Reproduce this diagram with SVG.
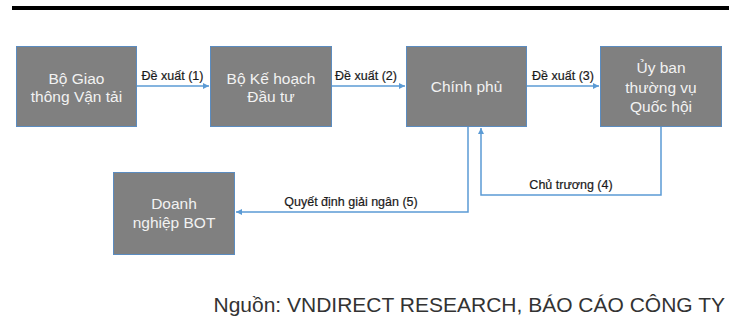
<svg xmlns="http://www.w3.org/2000/svg" width="739" height="325" viewBox="0 0 739 325">
<defs>
<style>
.box{fill:#808080;stroke:#5b8cc0;stroke-width:1}
.bt{font-family:"Liberation Sans",Arial,sans-serif;font-size:15.5px;fill:#f2f2f2;text-anchor:middle}
.lbl{font-family:"Liberation Sans",Arial,sans-serif;font-size:12.5px;fill:#1a1a1a;text-anchor:middle;stroke:#1a1a1a;stroke-width:0.2}
.con{fill:none;stroke:#5b9bd5;stroke-width:1.5}
</style>
<marker id="ah" viewBox="0 0 10 10" refX="10" refY="5" markerWidth="6" markerHeight="6" markerUnits="userSpaceOnUse" orient="auto"><path d="M0,0 L10,5 L0,10 z" fill="#5b9bd5"/></marker>
</defs>
<rect width="739" height="325" fill="#ffffff"/>
<rect x="12" y="6" width="717" height="4" fill="#000000"/>
<g id="connectors">
<path class="con" d="M137,86 H209" marker-end="url(#ah)"/>
<path class="con" d="M332,86 H405" marker-end="url(#ah)"/>
<path class="con" d="M527,86 H599" marker-end="url(#ah)"/>
<path class="con" d="M661,127 V195 H481 V128" marker-end="url(#ah)"/>
<path class="con" d="M468,127 V212 H236" marker-end="url(#ah)"/>
<text class="lbl" x="172.5" y="80">Đề xuất (1)</text>
<text class="lbl" x="366" y="80">Đề xuất (2)</text>
<text class="lbl" x="563" y="80">Đề xuất (3)</text>
<text class="lbl" x="571" y="189">Chủ trương (4)</text>
<text class="lbl" x="351" y="206">Quyết định giải ngân (5)</text>
</g>
<g id="n1">
<rect class="box" x="16.5" y="46.5" width="120" height="80"/>
<text class="bt" x="76.5" y="84">Bộ Giao</text>
<text class="bt" x="76.5" y="102">thông Vận tải</text>
</g>
<g id="n2">
<rect class="box" x="210.5" y="46.5" width="121" height="80"/>
<text class="bt" x="271" y="84">Bộ Kế hoạch</text>
<text class="bt" x="271" y="102">Đầu tư</text>
</g>
<g id="n3">
<rect class="box" x="406.5" y="46.5" width="120" height="80"/>
<text class="bt" x="466.5" y="92">Chính phủ</text>
</g>
<g id="n4">
<rect class="box" x="600.5" y="46.5" width="121" height="80"/>
<text class="bt" x="661" y="73">Ủy ban</text>
<text class="bt" x="661" y="93">thường vụ</text>
<text class="bt" x="661" y="112">Quốc hội</text>
</g>
<g id="n5">
<rect class="box" x="113.5" y="172.5" width="121" height="82"/>
<text class="bt" x="174" y="209">Doanh</text>
<text class="bt" x="174" y="228">nghiệp BOT</text>
</g>
<text x="725" y="312" font-family="'Liberation Sans',Arial,sans-serif" font-size="21" fill="#333333" text-anchor="end">Nguồn: VNDIRECT RESEARCH, BÁO CÁO CÔNG TY</text>
</svg>
